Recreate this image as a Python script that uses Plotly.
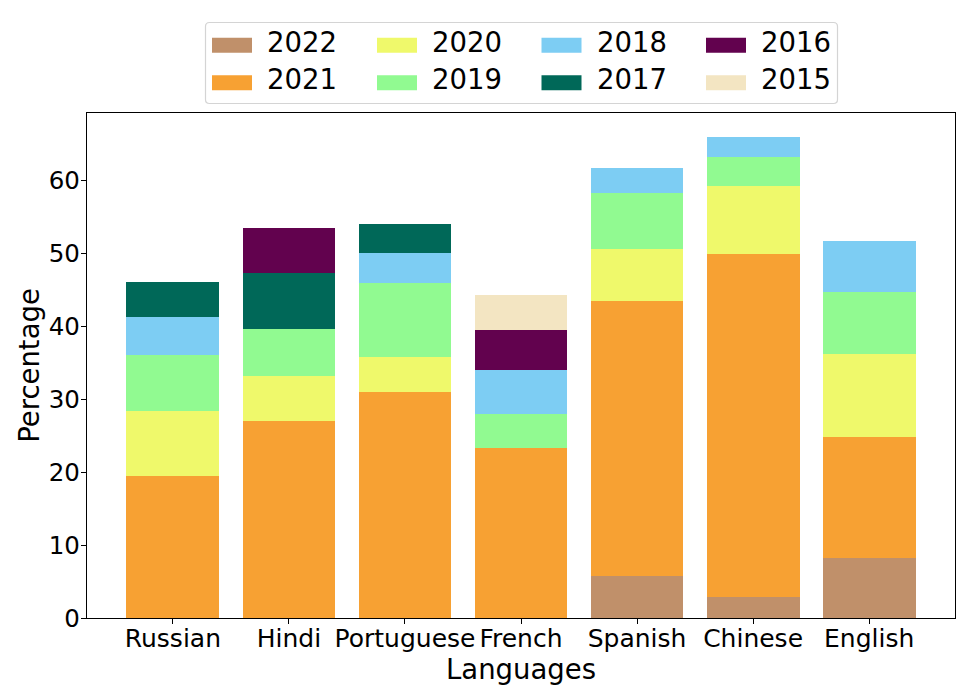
import plotly.graph_objects as go

languages = ["Russian", "Hindi", "Portuguese", "French", "Spanish", "Chinese", "English"]
years = ["2022", "2021", "2020", "2019", "2018", "2017", "2016", "2015"]

v2022 = [0.0, 0.0, 0.0, 0.0, 5.8, 2.9, 8.2]
v2021 = [19.5, 27.0, 31.0, 23.3, 37.7, 47.0, 16.6]
v2020 = [8.9, 6.2, 4.8, 0.0, 7.0, 9.3, 11.4]
v2019 = [7.7, 6.4, 10.1, 4.7, 7.8, 4.0, 8.5]
v2018 = [5.1, 0.0, 4.1, 6.0, 3.4, 2.7, 7.0]
v2017 = [4.9, 7.7, 4.0, 0.0, 0.0, 0.0, 0.0]
v2016 = [0.0, 6.2, 0.0, 5.4, 0.0, 0.0, 0.0]
v2015 = [0.0, 0.0, 0.0, 4.8, 0.0, 0.0, 0.0]

series = [v2022, v2021, v2020, v2019, v2018, v2017, v2016, v2015]
colors = ["#c0906a", "#f7a133", "#eff96b", "#91fa91", "#7dcdf3", "#006858", "#62024e", "#f3e5c2"]

FONT = "DejaVu Sans"
W, H = 969, 700
ML, MR, MT, MB = 87, 14, 113, 82
PW, PH = W - ML - MR, H - MT - MB

fig = go.Figure()
for yr, vals, col in zip(years, series, colors):
    fig.add_trace(go.Bar(x=languages, y=vals, name=yr, marker=dict(color=col, line=dict(width=0)),
                         showlegend=False))

def px_x(px):
    return (px - ML) / PW

def px_y(py):
    return (H - MB - py) / PH

shapes = []
annotations = []

# legend box (rounded)
bx0, bx1, by0, by1, r = 205.5, 837.5, 22.5, 103.5, 4
path = (f"M {px_x(bx0 + r)},{px_y(by0)} L {px_x(bx1 - r)},{px_y(by0)} "
        f"Q {px_x(bx1)},{px_y(by0)} {px_x(bx1)},{px_y(by0 + r)} "
        f"L {px_x(bx1)},{px_y(by1 - r)} Q {px_x(bx1)},{px_y(by1)} {px_x(bx1 - r)},{px_y(by1)} "
        f"L {px_x(bx0 + r)},{px_y(by1)} Q {px_x(bx0)},{px_y(by1)} {px_x(bx0)},{px_y(by1 - r)} "
        f"L {px_x(bx0)},{px_y(by0 + r)} Q {px_x(bx0)},{px_y(by0)} {px_x(bx0 + r)},{px_y(by0)} Z")
shapes.append(dict(type="path", xref="paper", yref="paper", path=path,
                   line=dict(color="#d4d4d4", width=1.2), fillcolor="white", layer="above"))

col_left = [212, 377, 541.5, 706]
sw_rows = [45.2, 82.8]
tx_rows = [41.7, 78.7]
for i, (yr, col) in enumerate(zip(years, colors)):
    c, rw = i // 2, i % 2
    x0 = col_left[c]
    shapes.append(dict(type="rect", xref="paper", yref="paper",
                       x0=px_x(x0), x1=px_x(x0 + 40),
                       y0=px_y(sw_rows[rw] - 7.5), y1=px_y(sw_rows[rw] + 7.5),
                       fillcolor=col, line=dict(width=0), layer="above"))
    annotations.append(dict(xref="paper", yref="paper", x=px_x(x0 + 54), y=px_y(tx_rows[rw]),
                            text=yr, showarrow=False, xanchor="left", yanchor="middle",
                            borderpad=0, font=dict(family=FONT, size=27.5, color="black")))

fig.update_layout(
    width=W, height=H,
    margin=dict(l=ML, r=MR, t=MT, b=MB, autoexpand=False),
    barmode="stack", bargap=0.2,
    plot_bgcolor="white", paper_bgcolor="white",
    font=dict(family=FONT, color="black"),
    shapes=shapes, annotations=annotations,
    showlegend=False,
)
fig.update_xaxes(
    type="category", range=[-0.74, 6.74],
    showline=True, mirror=True, linecolor="black", linewidth=1.3,
    ticks="outside", ticklen=5, tickwidth=1.3, tickcolor="black",
    tickfont=dict(family=FONT, size=25, color="black"),
    ticklabelstandoff=-7,
    showgrid=False, zeroline=False,
    title=dict(text="Languages", font=dict(family=FONT, size=27.5, color="black"), standoff=4),
    automargin=False,
)
fig.update_yaxes(
    range=[0, 69.2], dtick=10, tick0=0,
    showline=True, mirror=True, linecolor="black", linewidth=1.3,
    ticks="outside", ticklen=5, tickwidth=1.3, tickcolor="black",
    tickfont=dict(family=FONT, size=24.5, color="black"),
    ticklabelstandoff=-4,
    showgrid=False, zeroline=False,
    title=dict(text="Percentage", font=dict(family=FONT, size=27.5, color="black"), standoff=1),
    automargin=False,
)

fig.write_html("out.html", config={"displayModeBar": False},
               post_script="document.body.style.margin='0';")
